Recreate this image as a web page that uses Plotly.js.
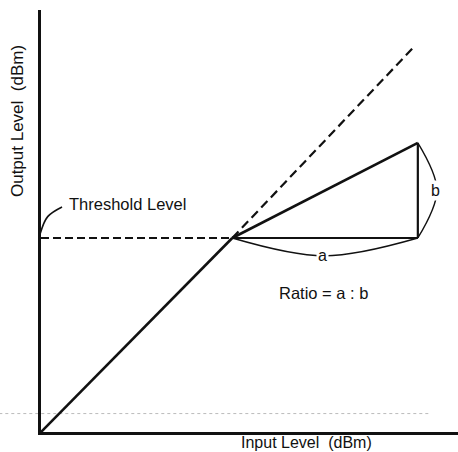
<!DOCTYPE html>
<html><head><meta charset="utf-8">
<script src="https://cdn.plot.ly/plotly-3.0.1.min.js"></script>
<style>html,body{margin:0;padding:0;background:#fff;}#chart{width:458px;height:452px;}</style>
</head><body><div id="chart"></div>
<script>
// Data (input level / output level, arbitrary dB units)
const uncompressedX = [0, 10];
const uncompressedY = [0, 10];
const noCompX = [10, 19.5];
const noCompY = [10, 19.85];
const compressedX = [10, 19.7];
const compressedY = [10, 14.9];
const thresholdX = [0, 10];
const thresholdY = [10, 10];
const baseX = [10, 19.7];
const baseY = [10, 10];
const riseX = [19.7, 19.7];
const riseY = [10, 14.9];
const arcAX = [10, 14.8, 19.7];
const arcAY = [10, 9.08, 10];
const arcBX = [19.7, 20.7, 19.7];
const arcBY = [14.9, 12.45, 10];
const pointerX = [1.1, 0.35, -0.05];
const pointerY = [11.6, 11.1, 10.2];

const FONT = 'Liberation Sans, Arial, sans-serif';
const solid = {color: '#111', width: 2.6};
const traces = [
  {x: uncompressedX, y: uncompressedY, mode: 'lines', line: solid},
  {x: noCompX, y: noCompY, mode: 'lines', line: {color: '#111', width: 2.2, dash: '9px,5px'}},
  {x: thresholdX, y: thresholdY, mode: 'lines', line: {color: '#111', width: 2.2, dash: '8px,4px'}},
  {x: compressedX, y: compressedY, mode: 'lines', line: solid},
  {x: baseX, y: baseY, mode: 'lines', line: {color: '#111', width: 2.2}},
  {x: riseX, y: riseY, mode: 'lines', line: {color: '#111', width: 2.2}},
  {x: arcAX, y: arcAY, mode: 'lines', line: {color: '#111', width: 1.4, shape: 'spline'}},
  {x: arcBX, y: arcBY, mode: 'lines', line: {color: '#111', width: 1.4, shape: 'spline'}},
  {x: pointerX, y: pointerY, mode: 'lines', line: {color: '#111', width: 1.6, shape: 'spline'}}
].map(t => Object.assign({showlegend: false, hoverinfo: 'skip', cliponaxis: false}, t));

const layout = {
  width: 458, height: 452,
  margin: {l: 41, r: 0, t: 10, b: 20},
  paper_bgcolor: '#fff', plot_bgcolor: '#fff',
  showlegend: false,
  xaxis: {range: [0, 21.8], showgrid: false, zeroline: false, showticklabels: false, ticks: '',
          showline: true, linecolor: '#111', linewidth: 2.6,
          title: {text: ''}},
  yaxis: {range: [0, 21.75], showgrid: false, zeroline: false, showticklabels: false, ticks: '',
          showline: true, linecolor: '#111', linewidth: 2.6,
          title: {text: ''}},
  shapes: [
    {type: 'line', xref: 'paper', yref: 'y', x0: -0.1, x1: 0.93, y0: 0.95, y1: 0.95,
     line: {color: '#bbb', width: 1, dash: 'dot'}, layer: 'below'}
  ],
  annotations: [
    {xref: 'paper', yref: 'paper', x: -0.055, y: 0.737, xanchor: 'center', yanchor: 'middle',
     text: 'Output Level  (dBm)', textangle: -90,
     showarrow: false, font: {family: FONT, size: 17, color: '#111'}},
    {xref: 'x', yref: 'paper', x: 13.9, y: -0.0474, xanchor: 'center', yanchor: 'bottom', borderpad: 0,
     text: 'Input Level  (dBm)',
     showarrow: false, font: {family: FONT, size: 16, color: '#111'}},
    {xref: 'x', yref: 'y', x: 1.35, y: 11.75, xanchor: 'left', text: 'Threshold Level',
     showarrow: false, font: {family: FONT, size: 16.5, color: '#111'}},
    {xref: 'x', yref: 'y', x: 14.7, y: 9.1, text: 'a', bgcolor: '#fff', borderpad: 1,
     showarrow: false, font: {family: FONT, size: 16, color: '#111'}},
    {xref: 'x', yref: 'y', x: 20.6, y: 12.45, text: 'b', bgcolor: '#fff', borderpad: 1,
     showarrow: false, font: {family: FONT, size: 16, color: '#111'}},
    {xref: 'x', yref: 'y', x: 14.75, y: 7.17, text: 'Ratio = a : b',
     showarrow: false, font: {family: FONT, size: 16.5, color: '#111'}}
  ]
};
Plotly.newPlot('chart', traces, layout, {displayModeBar: false, staticPlot: true});
</script></body></html>
